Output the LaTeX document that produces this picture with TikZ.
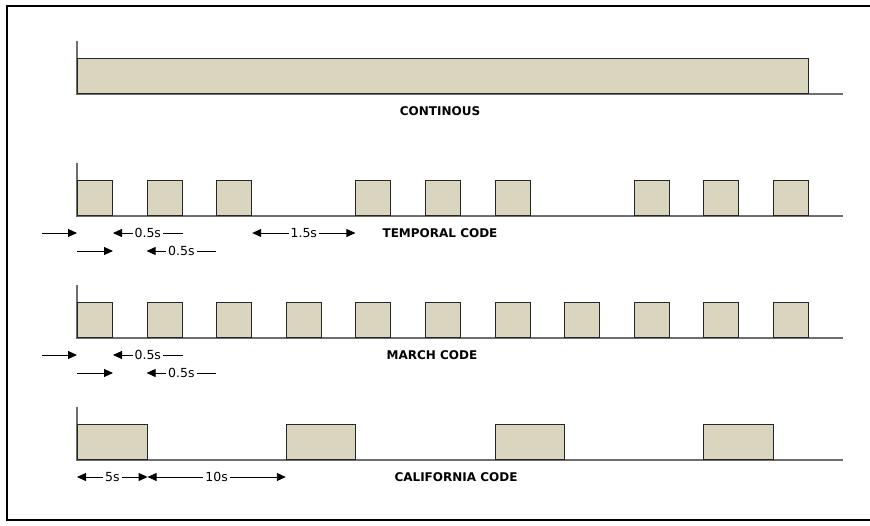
\documentclass[tikz,border=0pt]{standalone}
\usepackage{fontspec}
\setmainfont{DejaVu Sans}
\usetikzlibrary{arrows.meta,positioning,calc}
\definecolor{pulsetan}{RGB}{217,213,190}
\definecolor{axisgray}{RGB}{110,110,110}

\begin{document}
\begin{tikzpicture}[
    x=1pt, y=-1pt,
    pulse/.style={draw=black!85, fill=pulsetan, line width=1pt, inner sep=0pt,
                  minimum height=35pt, anchor=south west},
    axis/.style={draw=axisgray, line width=1.4pt},
    dim/.style={line width=0.9pt},
    tipl/.style={{Triangle[length=9pt,width=8pt]}-},
    tipr/.style={-{Triangle[length=9pt,width=8pt]}},
    tiplr/.style={{Triangle[length=9pt,width=8pt]}-{Triangle[length=9pt,width=8pt]}},
    lbl/.style={fill=white, inner sep=2pt, font=\fontsize{12.5}{15}\selectfont},
    title/.style={font=\fontsize{12}{14}\selectfont\bfseries}
]
\useasboundingbox (0,0) rectangle (870,525);

% Frame
\draw[line width=2pt] (872,6) -| (7,520) -- (872,520);

% Axes
\foreach \yb in {94,216,338,460}
  \draw[axis] (77,\yb-53) |- (843,\yb);

% Continous
\node[pulse, minimum width=731pt] (c0) at (77,94) {};
\node[title] (ctitle) at (440,111) {CONTINOUS};

% Temporal code
\foreach \k in {0,1,2,4,5,6,8,9,10}
  \node[pulse, minimum width=35pt] (t\k) at (77+69.6*\k,216) {};
\node[title] (ttitle) at (440,233) {TEMPORAL CODE};
\coordinate (ta) at (42,233);
\coordinate (tb) at (42,251);
\draw[dim, tipr] (ta) -- (ta -| t0.west);
\draw[dim, tipl] (ta -| t0.east) -- node[lbl] {0.5s} (ta -| t1.east);
\draw[dim, tiplr] (ta -| t2.east) -- node[lbl] {1.5s} (ta -| t4.west);
\draw[dim, tipr] (tb -| t0.west) -- (tb -| t0.east);
\draw[dim, tipl] (tb -| t1.west) -- node[lbl] {0.5s} (tb -| t2.west);

% March code
\foreach \k in {0,...,10}
  \node[pulse, minimum width=35pt] (m\k) at (77+69.6*\k,338) {};
\node[title] (mtitle) at (432,355) {MARCH CODE};
\coordinate (ma) at (42,355);
\coordinate (mb) at (42,373);
\draw[dim, tipr] (ma) -- (ma -| m0.west);
\draw[dim, tipl] (ma -| m0.east) -- node[lbl] {0.5s} (ma -| m1.east);
\draw[dim, tipr] (mb -| m0.west) -- (mb -| m0.east);
\draw[dim, tipl] (mb -| m1.west) -- node[lbl] {0.5s} (mb -| m2.west);

% California code
\foreach \k in {0,3,6,9}
  \node[pulse, minimum width=69.6pt] (cal\k) at (77+69.6*\k,460) {};
\node[title] (caltitle) at (456,477) {CALIFORNIA CODE};
\coordinate (cala) at (42,477);
\draw[dim, tiplr] (cala -| cal0.west) -- node[lbl] {5s} (cala -| cal0.east);
\draw[dim, tiplr] (cala -| cal0.east) -- node[lbl] {10s} (cala -| cal3.west);

\end{tikzpicture}
\end{document}
